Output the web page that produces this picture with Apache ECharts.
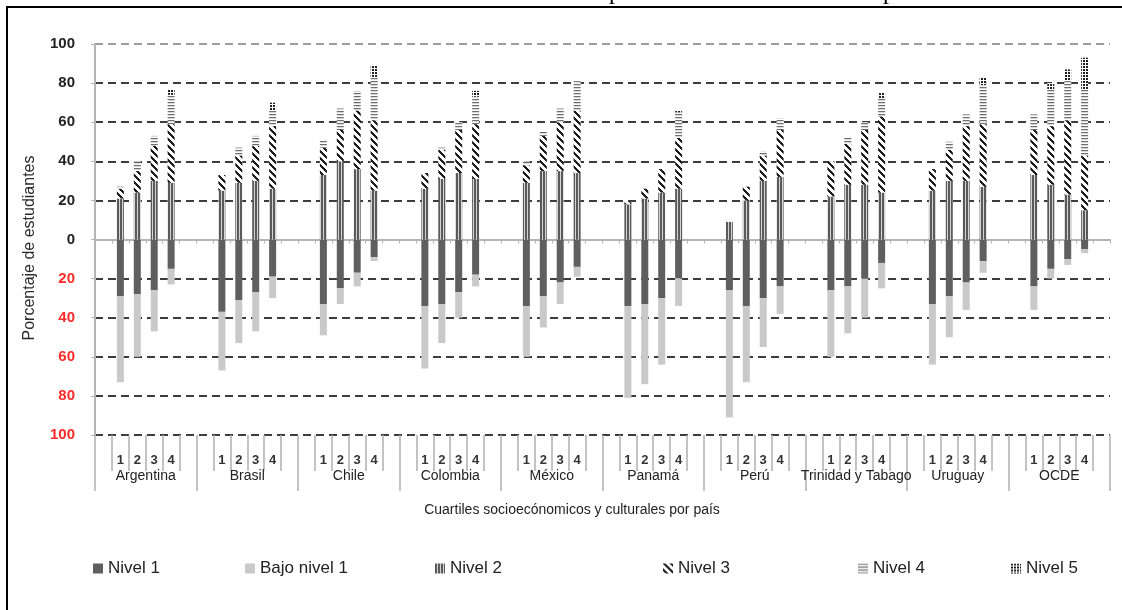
<!DOCTYPE html>
<html>
<head>
<meta charset="utf-8">
<script src="https://cdn.jsdelivr.net/npm/echarts@6/dist/echarts.min.js"></script>
<style>
html,body{margin:0;padding:0;background:#fff;}
#chart{width:1122px;height:610px;}
</style>
</head>
<body>
<div id="chart"></div>
<script>
const countries = ['Argentina','Brasil','Chile','Colombia','México','Panamá','Perú','Trinidad y Tabago','Uruguay','OCDE'];
const quartiles = ['1','2','3','4'];
const yTicks = [-100,-80,-60,-40,-20,0,20,40,60,80,100];
const seriesNames = ['Nivel 1','Bajo nivel 1','Nivel 2','Nivel 3','Nivel 4','Nivel 5'];
const xTitle = 'Cuartiles socioecónomicos y culturales por país';
const yTitle = 'Porcentaje de estudiantes';

// values per country, quartiles 1-4 (percent of students)
const nivel1 =     [29,28,26,15, 37,31,27,19, 33,25,17,9, 34,33,27,18, 34,29,22,14, 34,33,30,20, 26,34,30,24, 26,24,20,12, 33,29,22,11, 24,15,10,5];
const bajoNivel1 = [44,32,21,8,  30,22,20,11, 16,8,7,2,   32,20,13,6,  26,16,11,5,  47,41,34,14, 65,39,25,14, 34,24,20,13, 31,21,14,6,  12,5,3,2];
const nivel2 =     [21,24,30,29, 25,29,30,26, 33,40,36,25, 26,31,34,31, 29,35,35,34, 18,21,24,26, 9,20,30,32, 22,28,28,24, 25,30,30,27, 33,28,23,15];
const nivel3 =     [5,11,18,30,  8,14,18,32,  14,16,30,36, 8,15,22,28,  9,18,25,32,  1,5,12,26,   0,7,13,24,  18,21,28,39, 11,16,28,32, 23,30,38,28];
const nivel4 =     [1,5,5,15,    0,4,5,8,     4,11,10,22,  0,1,4,14,    2,2,7,15,    0,0,0,13,    0,0,2,6,    0,3,4,9,     0,4,6,20,    8,19,20,34];
const nivel5 =     [0,0,0,3,     0,0,0,4,     0,0,0,6,     0,0,0,3,     0,0,0,0,     0,0,0,1,     0,0,0,0,    0,0,0,3,     0,0,0,4,     0,3,6,16];

const FONT = 'Liberation Sans, Arial, sans-serif';

// 6 slots per country: blank, q1..q4, blank
const slotKeys = [], slotLabels = [];
countries.forEach((c) => {
  slotKeys.push(c + '_a'); slotLabels.push('');
  quartiles.forEach(q => { slotKeys.push(c + '_' + q); slotLabels.push(q); });
  slotKeys.push(c + '_b'); slotLabels.push('');
});
function expand(arr, sign) {
  const out = [];
  countries.forEach((c, ci) => {
    out.push('-');
    for (let q = 0; q < 4; q++) out.push(sign * arr[ci * 4 + q]);
    out.push('-');
  });
  return out;
}
function makePattern(w, h, fn) {
  const c = document.createElement('canvas');
  c.width = w; c.height = h;
  const ctx = c.getContext('2d');
  for (let x = 0; x < w; x++) for (let y = 0; y < h; y++) {
    ctx.fillStyle = fn(x, y); ctx.fillRect(x, y, 1, 1);
  }
  return { image: c, repeat: 'repeat' };
}
const pat2 = makePattern(3, 1, (x) => x % 3 === 2 ? '#d4d4d4' : '#5a5a5a');
const pat3 = makePattern(7, 7, (x, y) => ((x - y + 70) % 7) < 3 ? '#1c1c1c' : '#ffffff');
const pat4 = makePattern(1, 3, (x, y) => y % 3 === 0 ? '#6e6e6e' : (y % 3 === 1 ? '#d8d8d8' : '#ffffff'));
const pat5 = makePattern(3, 3, (x, y) => (x % 3 === 2 || y % 3 === 2) ? '#ffffff' : '#202020');

const seriesDefs = [
  { name: seriesNames[0], data: expand(nivel1, -1), color: '#5f5f5f' },
  { name: seriesNames[1], data: expand(bajoNivel1, -1), color: '#c9c9c9' },
  { name: seriesNames[2], data: expand(nivel2, 1), color: pat2 },
  { name: seriesNames[3], data: expand(nivel3, 1), color: pat3 },
  { name: seriesNames[4], data: expand(nivel4, 1), color: pat4 },
  { name: seriesNames[5], data: expand(nivel5, 1), color: pat5 }
];
const legendLefts = [88, 240, 430, 658, 853, 1006];

const chart = echarts.init(document.getElementById('chart'));
const splitColors = yTicks.map(v => v === 0 ? 'rgba(0,0,0,0)' : (v === 100 ? '#9c9c9c' : '#3c3c3c'));

chart.setOption({
  animation: false,
  backgroundColor: '#ffffff',
  textStyle: { fontFamily: FONT },
  grid: { left: 95, right: 12, top: 44, bottom: 175 },
  legend: seriesNames.map((n, i) => ({
    data: [n], left: legendLefts[i], top: 555, icon: 'rect', itemWidth: 10, itemHeight: 10,
    selectedMode: false, textStyle: { fontSize: 17, color: '#222', fontFamily: FONT }
  })),
  xAxis: [
    {
      type: 'category', data: slotKeys, position: 'bottom',
      axisLine: { onZero: true, lineStyle: { color: '#b4b4b4', width: 2 } },
      axisTick: { show: true, interval: 0, length: 4, lineStyle: { color: '#b4b4b4' } },
      axisLabel: { show: false }, splitLine: { show: false }
    },
    {
      type: 'category', data: slotKeys, position: 'bottom',
      axisLine: { show: false, onZero: false },
      axisTick: { show: true, interval: 0, length: 36, lineStyle: { color: '#b0b0b0', width: 1.5 } },
      axisLabel: { interval: 0, margin: 19, fontSize: 13, fontWeight: 'bold', color: '#333', fontFamily: FONT,
        formatter: (v, i) => slotLabels[i] },
      splitLine: { show: false }
    },
    {
      type: 'category', data: countries, position: 'bottom',
      axisLine: { show: false, onZero: false },
      axisTick: { show: true, interval: 0, length: 56, lineStyle: { color: '#b0b0b0', width: 1.5 } },
      axisLabel: { interval: 0, margin: 34, fontSize: 14, color: '#222', fontFamily: FONT },
      splitLine: { show: false }
    }
  ],
  yAxis: {
    type: 'value', min: -100, max: 100, interval: 20,
    axisLine: { show: true, lineStyle: { color: '#b4b4b4', width: 2 } },
    axisTick: { show: true, length: 4, lineStyle: { color: '#b4b4b4' } },
    axisLabel: {
      margin: 20, fontFamily: FONT,
      formatter: v => v < 0 ? '{r|' + (-v) + '}' : '{b|' + v + '}',
      rich: {
        r: { color: '#ff2b2b', fontSize: 15, fontWeight: 'bold', fontFamily: FONT },
        b: { color: '#222', fontSize: 15, fontWeight: 'bold', fontFamily: FONT }
      }
    },
    splitLine: { show: true, lineStyle: { color: splitColors, width: 2, type: [8, 5] } }
  },
  series: seriesDefs.map(s => ({
    type: 'bar', name: s.name, data: s.data, stack: 'total', xAxisIndex: 0,
    barWidth: 7, itemStyle: { color: s.color }
  })),
  graphic: [
    { type: 'rect', shape: { x: 7, y: 7, width: 1130, height: 640 }, style: { fill: 'none', stroke: '#000', lineWidth: 2 }, silent: true },
    { type: 'text', x: 609, y: 5, style: { text: 'p', font: '24px "Liberation Serif", serif', fill: '#000', verticalAlign: 'bottom' }, silent: true },
    { type: 'text', x: 883, y: 5, style: { text: 'p', font: '24px "Liberation Serif", serif', fill: '#000', verticalAlign: 'bottom' }, silent: true },
    { type: 'text', x: 572, y: 510, style: { text: xTitle, font: '14px ' + FONT, fill: '#222', align: 'center', verticalAlign: 'middle' }, silent: true },
    { type: 'text', x: 30, y: 248, rotation: Math.PI / 2, style: { text: yTitle, font: '16px ' + FONT, fill: '#2a2a2a', align: 'center', verticalAlign: 'middle' }, silent: true }
  ]
});
</script>
</body>
</html>
